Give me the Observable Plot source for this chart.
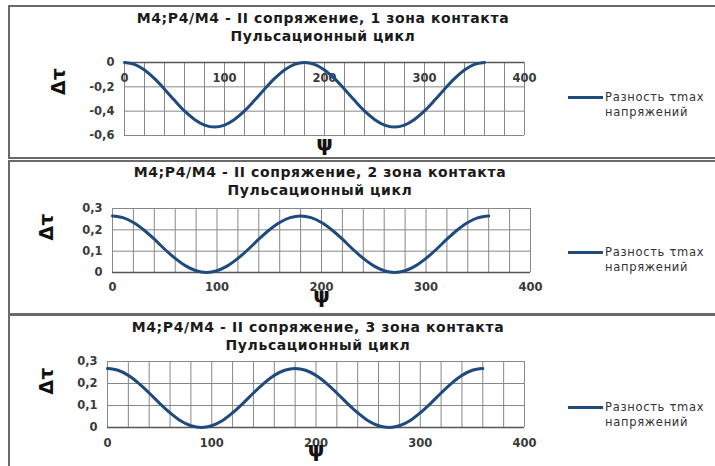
<!DOCTYPE html>
<html>
<head>
<meta charset="utf-8">
<script src="https://cdn.jsdelivr.net/npm/d3@7"></script>
<script src="https://cdn.jsdelivr.net/npm/@observablehq/plot@0.6"></script>
<style>
  html, body { margin: 0; padding: 0; background: #fff; }
  #page { position: relative; width: 715px; height: 466px; overflow: hidden; background: #fff; }
  .panel { position: absolute; left: 8px; width: 720px; border: 2px solid #6a6a6a; border-right: none; box-sizing: border-box; }
  .title { position: absolute; width: 460px; text-align: center; font-family: "DejaVu Sans", sans-serif; font-weight: bold; font-size: 14px; letter-spacing: 0.6px; color: #1a1a1a; line-height: 18px; }
  .legend { position: absolute; font-family: "DejaVu Sans", sans-serif; font-size: 11.5px; color: #333; line-height: 15px; letter-spacing: 0.7px; }
  .legend .swatch { position: absolute; left: -37px; top: 6px; width: 35px; height: 3px; background: #1f4a7d; }
  .chart { position: absolute; left: 0; }
  .chart text.tk { letter-spacing: 0.6px; }
</style>
</head>
<body>
<div id="page"></div>
<script>
// Angle ψ (degrees) at which Δτ was evaluated
const psi = [0, 10, 20, 30, 40, 50, 60, 70, 80, 90, 100, 110, 120, 130, 140, 150, 160, 170, 180,
             190, 200, 210, 220, 230, 240, 250, 260, 270, 280, 290, 300, 310, 320, 330, 340, 350, 360];

// Difference of τmax stresses, contact zone 1
const zone1 = [0, -0.016, -0.062, -0.133, -0.219, -0.311, -0.398, -0.468, -0.514, -0.53,
               -0.514, -0.468, -0.398, -0.311, -0.219, -0.133, -0.062, -0.016, 0,
               -0.016, -0.062, -0.133, -0.219, -0.311, -0.398, -0.468, -0.514, -0.53,
               -0.514, -0.468, -0.398, -0.311, -0.219, -0.133, -0.062, -0.016, 0];

// Contact zone 2
const zone2 = [0.265, 0.257, 0.234, 0.199, 0.156, 0.109, 0.066, 0.031, 0.008, 0,
               0.008, 0.031, 0.066, 0.109, 0.156, 0.199, 0.234, 0.257, 0.265,
               0.257, 0.234, 0.199, 0.156, 0.109, 0.066, 0.031, 0.008, 0,
               0.008, 0.031, 0.066, 0.109, 0.156, 0.199, 0.234, 0.257, 0.265];

// Contact zone 3
const zone3 = [0.268, 0.26, 0.237, 0.201, 0.157, 0.11, 0.067, 0.031, 0.008, 0,
               0.008, 0.031, 0.067, 0.11, 0.157, 0.201, 0.237, 0.26, 0.268,
               0.26, 0.237, 0.201, 0.157, 0.11, 0.067, 0.031, 0.008, 0,
               0.008, 0.031, 0.067, 0.11, 0.157, 0.201, 0.237, 0.26, 0.268];

const xTicks = [0, 100, 200, 300, 400];
const yTicksNeg = [0, -0.2, -0.4, -0.6];
const yTicksPos = [0, 0.1, 0.2, 0.3];

const titleLine1 = ["M4;P4/M4 - II сопряжение, 1 зона контакта",
                    "M4;P4/M4 - II сопряжение, 2 зона контакта",
                    "M4;P4/M4 - II сопряжение, 3 зона контакта"];
const titleLine2 = "Пульсационный цикл";
const legendLabel = ["Разность τmax", "напряжений"];

const lineColor = "#1f4a7d";
const gridColor = "#878787";
const fmt = d => d === 0 ? "0" : String(d).replace(".", ",");

const panels = [
  {values: zone1, yDomain: [-0.6, 0], yTicks: yTicksNeg, top: 5, boxH: 154,
   svgTop: 6, svgH: 152, m: {l: 124, r: 191, t: 56, b: 23}, tickDy: 16, psiDy: 4, dtDx: -66, dtDy: -4,
   titleX: 323, titleY: 9, legendY: 90},
  {values: zone2, yDomain: [0, 0.3], yTicks: yTicksPos, top: 160, boxH: 155,
   svgTop: 160, svgH: 153, m: {l: 112, r: 185, t: 48, b: 41}, tickDy: 15, psiDy: 1, dtDx: -66, dtDy: 0,
   titleX: 320, titleY: 163, legendY: 245},
  {values: zone3, yDomain: [0, 0.3], yTicks: yTicksPos, top: 314, boxH: 160,
   svgTop: 314, svgH: 152, m: {l: 107, r: 191, t: 47, b: 39}, tickDy: 16, psiDy: 2, dtDx: -61, dtDy: 0,
   titleX: 318, titleY: 318, legendY: 400}
];

const page = document.getElementById("page");

panels.forEach((p, i) => {
  const box = document.createElement("div");
  box.className = "panel";
  box.style.top = p.top + "px";
  box.style.height = p.boxH + "px";
  page.appendChild(box);

  const rows = psi.map((x, k) => ({psi: x, dt: p.values[k]}));

  const chart = Plot.plot({
    width: 715,
    height: p.svgH,
    marginLeft: p.m.l,
    marginRight: p.m.r,
    marginTop: p.m.t,
    marginBottom: p.m.b,
    style: {background: "transparent", overflow: "visible"},
    x: {domain: [0, 400]},
    y: {domain: p.yDomain},
    marks: [
      Plot.gridX({ticks: 20, stroke: gridColor, strokeOpacity: 1, strokeWidth: 1}),
      Plot.gridY(p.yTicks, {stroke: gridColor, strokeOpacity: 1, strokeWidth: 1}),
      Plot.ruleY([0], {stroke: "#555", strokeWidth: 1.3}),
      Plot.axisY(p.yTicks, {
        tickSize: 0, tickPadding: 10, tickFormat: fmt, label: null, className: "tk",
        fontFamily: "DejaVu Sans", fontWeight: "bold", fontSize: 11.5, fill: "#3a3a3a"
      }),
      Plot.axisX({ticks: [], label: null}),
      Plot.text(xTicks, {
        x: d => d, y: () => 0, dy: p.tickDy, text: d => String(d), className: "tk",
        fontFamily: "DejaVu Sans", fontWeight: "bold", fontSize: 11.5, fill: "#3a3a3a"
      }),
      Plot.line(rows, {x: "psi", y: "dt", stroke: lineColor, strokeWidth: 3, curve: "catmull-rom"}),
      Plot.text(["ψ"], {
        frameAnchor: "bottom", dy: p.m.b - 12 + p.psiDy, fontFamily: "DejaVu Sans", fontWeight: "bold",
        fontSize: 21, fill: "#111"
      }),
      Plot.text(["Δτ"], {
        frameAnchor: "left", dx: p.dtDx, dy: p.dtDy, rotate: -90, fontFamily: "DejaVu Sans", fontWeight: "bold",
        fontSize: 19, fill: "#111"
      })
    ]
  });
  chart.classList.add("chart");
  chart.style.top = p.svgTop + "px";
  page.appendChild(chart);

  const t = document.createElement("div");
  t.className = "title";
  t.style.left = (p.titleX - 230) + "px";
  t.style.top = p.titleY + "px";
  t.innerHTML = titleLine1[i] + "<br>" + titleLine2;
  page.appendChild(t);

  const lg = document.createElement("div");
  lg.className = "legend";
  lg.style.left = "605px";
  lg.style.top = p.legendY + "px";
  lg.innerHTML = '<span class="swatch"></span>' + legendLabel[0] + "<br>" + legendLabel[1];
  page.appendChild(lg);
});
</script>
</body>
</html>
